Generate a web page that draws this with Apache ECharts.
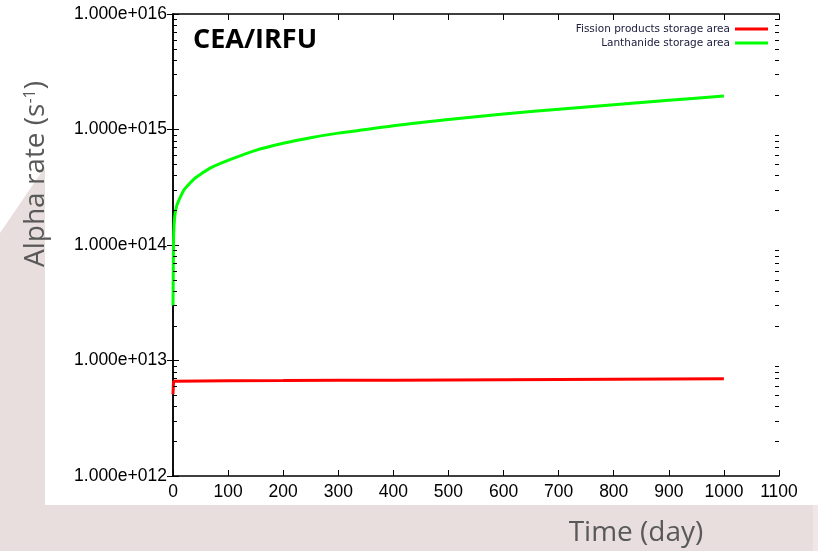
<!DOCTYPE html>
<html>
<head>
<meta charset="utf-8">
<style>
  html, body { margin: 0; padding: 0; background: #e8dede; }
  #chart { width: 818px; height: 551px; }
</style>
<script src="https://cdn.jsdelivr.net/npm/echarts@6/dist/echarts.min.js"></script>
</head>
<body>
<div id="chart"></div>
<script>
// Time axis (days)
const xTicks = [0, 100, 200, 300, 400, 500, 600, 700, 800, 900, 1000, 1100];

// Lanthanide storage area: alpha rate (s^-1) over time (day)
const lanthDays = [0, 0.5, 1, 2, 4, 7, 10, 15, 20, 30, 40, 50, 70, 100, 150, 200, 250, 300, 350, 400, 500, 600, 700, 800, 900, 1000];
const lanthRate = [3.0e13, 6.0e13, 1.1e14, 1.5e14, 1.9e14, 2.2e14, 2.4e14, 2.7e14, 3.0e14, 3.4e14, 3.8e14, 4.1e14, 4.7e14, 5.4e14, 6.6e14, 7.6e14, 8.5e14, 9.3e14, 1.0e15, 1.08e15, 1.22e15, 1.36e15, 1.5e15, 1.64e15, 1.79e15, 1.95e15];

// Fission products storage area: alpha rate (s^-1) over time (day)
const fissionDays = [0, 1, 2, 100, 200, 300, 400, 500, 600, 700, 800, 900, 1000];
const fissionRate = [5.1e12, 6.6e12, 6.65e12, 6.68e12, 6.7e12, 6.73e12, 6.76e12, 6.79e12, 6.82e12, 6.85e12, 6.88e12, 6.91e12, 6.95e12];

// Decades shown on the logarithmic axis
const yMin = 1e12, yMax = 1e16;

const pairs = (xs, ys) => xs.map((x, i) => [x, ys[i]]);

const fmtExp = v => {
  const e = Math.round(Math.log10(v));
  return '1.000e+' + String(e).padStart(3, '0');
};

const chart = echarts.init(document.getElementById('chart'));

const tickFont = { fontFamily: 'Liberation Sans, Arial, sans-serif', fontSize: 17.5, color: '#000' };
const axisLine = { show: true, lineStyle: { color: '#000', width: 1.5 } };
const majorTick = { show: true, inside: true, length: 6, lineStyle: { color: '#000', width: 1 } };

const option = {
  animation: false,
  backgroundColor: 'transparent',
  grid: { left: 173, top: 14, right: 39, bottom: 75, containLabel: false },
  legend: {
    orient: 'vertical',
    right: 45,
    top: 18,
    align: 'right',
    icon: 'rect',
    itemWidth: 33,
    itemHeight: 3,
    itemGap: 2,
    textStyle: { fontFamily: 'DejaVu Sans, sans-serif', fontSize: 10.5, lineHeight: 12, color: '#202040' },
    data: ['Fission products storage area', 'Lanthanide storage area']
  },
  xAxis: [
    {
      type: 'value', min: xTicks[0], max: xTicks[xTicks.length - 1], interval: 100,
      axisLine, axisTick: majorTick, splitLine: { show: false },
      axisLabel: Object.assign({ margin: 7, formatter: v => String(v) }, tickFont)
    },
    {
      type: 'value', position: 'top', min: xTicks[0], max: xTicks[xTicks.length - 1], interval: 100,
      axisLine, axisTick: majorTick, splitLine: { show: false }, axisLabel: { show: false }
    }
  ],
  yAxis: [
    {
      type: 'log', logBase: 10, min: yMin, max: yMax, interval: 1,
      axisLine, axisTick: majorTick, splitLine: { show: false },
      axisLabel: Object.assign({ margin: 6, formatter: fmtExp }, tickFont)
    },
    {
      type: 'log', logBase: 10, position: 'right', min: yMin, max: yMax, interval: 1,
      axisLine, axisTick: majorTick, splitLine: { show: false }, axisLabel: { show: false }
    }
  ],
  series: [
    {
      name: 'Fission products storage area', type: 'line', showSymbol: false,
      data: pairs(fissionDays, fissionRate),
      lineStyle: { color: '#ff0000', width: 3 }, itemStyle: { color: '#ff0000' }, z: 3
    },
    {
      name: 'Lanthanide storage area', type: 'line', showSymbol: false, smooth: 0.3,
      data: pairs(lanthDays, lanthRate),
      lineStyle: { color: '#00ff00', width: 3 }, itemStyle: { color: '#00ff00' }, z: 3
    }
  ]
};

chart.setOption(option);

// Slide backdrop, titles and logarithmic minor ticks
const gfx = [
  { type: 'rect', z: -10, silent: true, shape: { x: 0, y: 0, width: 818, height: 551 }, style: { fill: '#e8dede' } },
  { type: 'rect', z: -9, silent: true, shape: { x: 813, y: 505, width: 5, height: 46 }, style: { fill: '#efe7e7' } },
  { type: 'polygon', z: -8, silent: true,
    shape: { points: [[0, 0], [818, 0], [818, 505], [45, 505], [45, 167], [0, 233]] },
    style: { fill: '#ffffff' } },
  { type: 'text', z: 10, x: 193, y: 40,
    style: { text: 'CEA/IRFU', fontFamily: 'Open Sans, sans-serif', fontWeight: 'bold', fontSize: 27,
             fill: '#000', align: 'left', verticalAlign: 'middle' } },
  { type: 'text', z: 10, x: 636, y: 533,
    style: { text: 'Time (day)', fontFamily: 'Open Sans, sans-serif', fontSize: 28,
             fill: '#595959', align: 'center', verticalAlign: 'middle' } },
  { type: 'text', z: 10, x: 36, y: 174, rotation: Math.PI / 2,
    style: { text: 'Alpha rate (s{sup|-1})', fontFamily: 'Open Sans, sans-serif', fontSize: 28,
             fill: '#595959', align: 'center', verticalAlign: 'middle',
             rich: { sup: { fontFamily: 'Open Sans, sans-serif', fontSize: 16, fill: '#595959', verticalAlign: 'top', padding: [0, 0, 12, 0] } } } }
];

for (let d = 12; d < 16; d++) {
  for (let m = 2; m <= 9; m++) {
    const pl = chart.convertToPixel({ gridIndex: 0 }, [0, m * Math.pow(10, d)]);
    const pr = chart.convertToPixel({ gridIndex: 0 }, [1100, m * Math.pow(10, d)]);
    const py = Math.round(pl[1]) + 0.5;
    gfx.push({ type: 'line', z: 50, silent: true, shape: { x1: pl[0], y1: py, x2: pl[0] + 4, y2: py }, style: { stroke: '#000', lineWidth: 1 } });
    gfx.push({ type: 'line', z: 50, silent: true, shape: { x1: pr[0] - 4, y1: py, x2: pr[0], y2: py }, style: { stroke: '#000', lineWidth: 1 } });
  }
}

chart.setOption({ graphic: gfx });
</script>
</body>
</html>
